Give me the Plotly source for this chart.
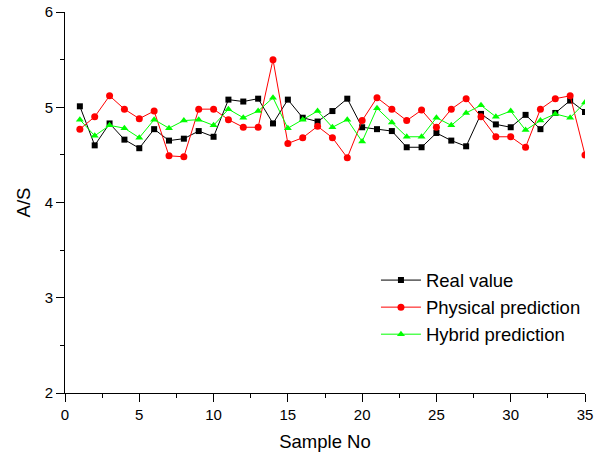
import plotly.graph_objects as go

sample_no = list(range(1, 36))
real_value = [5.01, 4.60, 4.83, 4.66, 4.57, 4.77, 4.65, 4.67, 4.75, 4.69,
              5.08, 5.06, 5.09, 4.83, 5.08, 4.89, 4.85, 4.96, 5.09, 4.79,
              4.77, 4.75, 4.58, 4.58, 4.73, 4.65, 4.59, 4.93, 4.82, 4.79,
              4.92, 4.77, 4.94, 5.07, 4.95]
physical_prediction = [4.77, 4.90, 5.12, 4.98, 4.88, 4.96, 4.49, 4.48, 4.98, 4.98,
                       4.87, 4.79, 4.79, 5.50, 4.62, 4.68, 4.80, 4.68, 4.47, 4.86,
                       5.10, 4.98, 4.86, 4.97, 4.79, 4.98, 5.09, 4.90, 4.69, 4.69,
                       4.58, 4.98, 5.09, 5.12, 4.50]
hybrid_prediction = [4.87, 4.70, 4.81, 4.78, 4.68, 4.87, 4.78, 4.86, 4.87, 4.81,
                     4.98, 4.89, 4.96, 5.10, 4.78, 4.87, 4.96, 4.79, 4.87, 4.64,
                     4.99, 4.84, 4.69, 4.69, 4.89, 4.81, 4.94, 5.02, 4.90, 4.96,
                     4.76, 4.86, 4.93, 4.89, 5.05]

font = "Liberation Sans, Arial, sans-serif"

fig = go.Figure()
fig.add_trace(go.Scatter(x=sample_no, y=real_value, mode="lines+markers", name="Real value",
                         line=dict(color="black", width=1),
                         marker=dict(symbol="square", size=6, color="black")))
fig.add_trace(go.Scatter(x=sample_no, y=physical_prediction, mode="lines+markers", name="Physical prediction",
                         line=dict(color="#ff0000", width=1),
                         marker=dict(symbol="circle", size=7, color="#ff0000")))
fig.add_trace(go.Scatter(x=sample_no, y=hybrid_prediction, mode="lines+markers", name="Hybrid prediction",
                         line=dict(color="#00ff00", width=1),
                         marker=dict(symbol="triangle-up", size=7, color="#00ff00")))

fig.update_layout(
    width=605, height=455,
    margin=dict(l=65, r=20, t=12, b=62, autoexpand=False),
    paper_bgcolor="white", plot_bgcolor="white",
    font=dict(family=font, size=15, color="black"),
    showlegend=True,
    legend=dict(x=0.598, y=0.345, xanchor="left", yanchor="top",
                bgcolor="rgba(0,0,0,0)", font=dict(size=18.5, family=font),
                tracegroupgap=0, itemwidth=40),
    xaxis=dict(range=[0, 35], tick0=0, dtick=5, showgrid=False, zeroline=False,
               automargin=False,
               showline=True, linecolor="black", linewidth=1,
               ticks="outside", ticklen=8, tickcolor="black",
               minor=dict(dtick=2.5, ticks="outside", ticklen=4, tickcolor="black"),
               title=dict(text="Sample No", font=dict(size=18.5), standoff=13)),
    yaxis=dict(range=[2, 6], tick0=2, dtick=1, showgrid=False, zeroline=False,
               automargin=False,
               showline=True, linecolor="black", linewidth=1,
               ticks="outside", ticklen=8, tickcolor="black",
               minor=dict(dtick=0.5, ticks="outside", ticklen=4, tickcolor="black"),
               title=dict(text="A/S", font=dict(size=18.5), standoff=9)),
)

fig.write_html("out.html", config={"displayModeBar": False},
               post_script="document.body.style.margin='0';")
